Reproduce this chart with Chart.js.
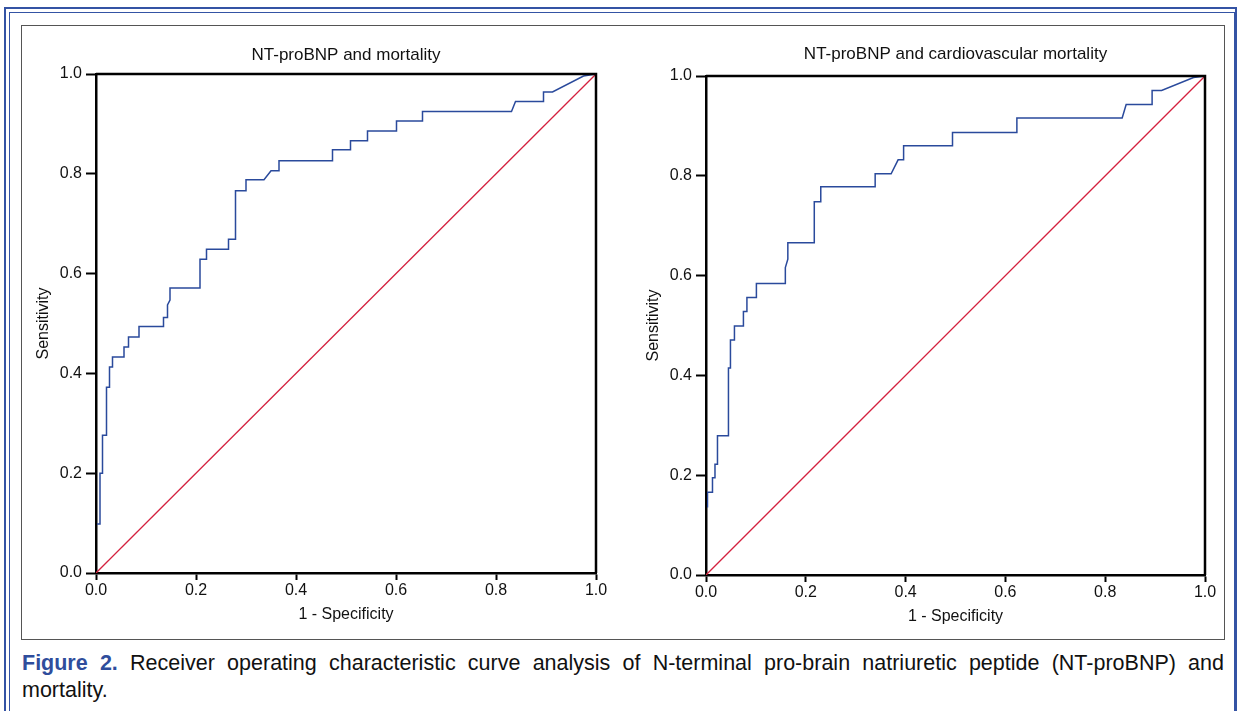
<!DOCTYPE html>
<html><head><meta charset="utf-8">
<script src="https://cdn.jsdelivr.net/npm/chart.js@4"></script>
<style>
html,body{margin:0;padding:0;background:#fff;width:1238px;height:711px;overflow:hidden;font-family:"Liberation Sans",Arial,Helvetica,sans-serif;}
.abs{position:absolute;box-sizing:border-box;}
#outer{left:4px;top:7px;width:1233px;height:720px;border:2px solid #3453a4;border-bottom:none;}
#inner{left:9px;top:12px;width:1226px;height:720px;border:1px solid #3453a4;border-bottom:none;}
#fig{left:21px;top:25px;width:1204px;height:615px;border:1px solid #555;}
#c1wrap{left:22px;top:26px;width:600px;height:600px;}
#c2wrap{left:632px;top:28px;width:600px;height:600px;}
#cap{left:22px;top:650px;width:1202px;font-size:21.5px;line-height:27px;color:#111;}
#cap .l1{text-align:justify;text-align-last:justify;white-space:nowrap;}
#cap b{color:#2f4d9c;}
</style></head>
<body>
<div id="outer" class="abs"></div>
<div id="inner" class="abs"></div>
<div id="fig" class="abs"></div>
<div id="c1wrap" class="abs"><canvas id="c1" width="600" height="600"></canvas></div>
<div id="c2wrap" class="abs"><canvas id="c2" width="600" height="600"></canvas></div>
<div id="cap" class="abs">
<div class="l1"><b>Figure 2.</b> Receiver operating characteristic curve analysis of N-terminal pro-brain natriuretic peptide (NT-proBNP) and</div>
<div>mortality.</div>
</div>
<script>
// ---- Data ----
const axisTicks = [0.0, 0.2, 0.4, 0.6, 0.8, 1.0];
const titles = ["NT-proBNP and mortality", "NT-proBNP and cardiovascular mortality"];
const xTitle = "1 - Specificity";
const yTitle = "Sensitivity";

// Left panel: all-cause mortality ROC
const leftFPR = [0, 0, 0.008, 0.008, 0.013, 0.013, 0.021, 0.021, 0.027, 0.027, 0.033, 0.033, 0.056, 0.056, 0.065, 0.065, 0.086, 0.086, 0.135, 0.135, 0.143, 0.143, 0.148, 0.148, 0.208, 0.208, 0.221, 0.221, 0.265, 0.265, 0.279, 0.279, 0.300, 0.300, 0.336, 0.350, 0.366, 0.366, 0.473, 0.473, 0.509, 0.509, 0.543, 0.543, 0.601, 0.601, 0.653, 0.653, 0.831, 0.839, 0.895, 0.895, 0.913, 0.975, 1.0];
const leftTPR = [0, 0.098, 0.098, 0.200, 0.200, 0.276, 0.276, 0.372, 0.372, 0.413, 0.413, 0.433, 0.433, 0.453, 0.453, 0.473, 0.473, 0.494, 0.494, 0.512, 0.512, 0.537, 0.547, 0.571, 0.571, 0.629, 0.629, 0.649, 0.649, 0.669, 0.669, 0.766, 0.766, 0.788, 0.788, 0.806, 0.806, 0.826, 0.826, 0.848, 0.848, 0.866, 0.866, 0.886, 0.886, 0.906, 0.906, 0.925, 0.925, 0.945, 0.945, 0.964, 0.964, 0.996, 1.0];

// Right panel: cardiovascular mortality ROC
const rightFPR = [0, 0, 0.003, 0.003, 0.013, 0.013, 0.018, 0.018, 0.023, 0.023, 0.045, 0.045, 0.049, 0.049, 0.057, 0.057, 0.075, 0.075, 0.082, 0.082, 0.101, 0.101, 0.159, 0.159, 0.164, 0.164, 0.217, 0.217, 0.230, 0.230, 0.339, 0.339, 0.371, 0.385, 0.396, 0.396, 0.494, 0.494, 0.623, 0.623, 0.834, 0.842, 0.894, 0.894, 0.913, 0.977, 1.0];
const rightTPR = [0, 0.137, 0.137, 0.166, 0.166, 0.195, 0.195, 0.222, 0.222, 0.279, 0.279, 0.415, 0.415, 0.471, 0.471, 0.499, 0.499, 0.528, 0.528, 0.556, 0.556, 0.584, 0.584, 0.616, 0.633, 0.666, 0.666, 0.748, 0.748, 0.778, 0.778, 0.804, 0.804, 0.832, 0.832, 0.860, 0.860, 0.887, 0.887, 0.916, 0.916, 0.943, 0.943, 0.971, 0.971, 0.997, 1.0];

// Reference line
const refX = [0, 1];
const refY = [0, 1];

// ---- Chart construction ----
const FONT = '"Liberation Sans", Arial, Helvetica, sans-serif';
const boxPlugin = {
  id: 'frameBox',
  afterDraw(chart) {
    const a = chart.chartArea, ctx = chart.ctx;
    ctx.save();
    ctx.strokeStyle = '#000';
    ctx.lineWidth = 2.5;
    ctx.beginPath();
    ctx.moveTo(a.left, a.top); ctx.lineTo(a.right, a.top); ctx.lineTo(a.right, a.bottom);
    ctx.stroke();
    ctx.restore();
  }
};

function pts(xs, ys) { return xs.map((x, i) => ({x: x, y: ys[i]})); }

function makeChart(id, title, xs, ys, titlePadTop, titlePadBottom, padRight) {
  const tickOpts = {
    font: {family: FONT, size: 16}, color: '#111',
    callback: (v) => Number(v).toFixed(1)
  };
  return new Chart(document.getElementById(id), {
    type: 'line',
    data: {
      datasets: [
        {data: pts(refX, refY), borderColor: '#d4213f', borderWidth: 1.3, pointRadius: 0, tension: 0, fill: false},
        {data: pts(xs, ys), borderColor: '#2a4a9c', borderWidth: 1.5, pointRadius: 0, tension: 0, fill: false,
         clip: {left: -1, top: 3, right: 3, bottom: 3}}
      ]
    },
    options: {
      responsive: false, animation: false, devicePixelRatio: 1,
      layout: {padding: {left: 0, right: padRight, top: 0, bottom: 0}},
      plugins: {
        legend: {display: false}, tooltip: {enabled: false},
        title: {display: true, text: title, fullSize: false, color: '#111',
                font: {family: FONT, size: 17, weight: 'normal'},
                padding: {top: titlePadTop, bottom: titlePadBottom}}
      },
      scales: {
        x: {
          type: 'linear', min: 0, max: 1, z: 1,
          afterBuildTicks: (s) => { s.ticks = axisTicks.map(v => ({value: v})); },
          afterFit: (s) => { s.height = 53; },
          grid: {drawOnChartArea: false, drawTicks: true, tickLength: 7, tickWidth: 2, tickColor: '#000'},
          border: {display: true, color: '#000', width: 2.5},
          ticks: Object.assign({padding: 1, maxRotation: 0, autoSkip: false}, tickOpts),
          title: {display: true, text: xTitle, color: '#111', font: {family: FONT, size: 16}, padding: {top: 0, bottom: 2}}
        },
        y: {
          type: 'linear', min: 0, max: 1, z: 1,
          afterBuildTicks: (s) => { s.ticks = axisTicks.map(v => ({value: v})); },
          afterFit: (s) => { s.width = 74; },
          grid: {drawOnChartArea: false, drawTicks: true, tickLength: 10, tickWidth: 2, tickColor: '#000'},
          border: {display: true, color: '#000', width: 2.5},
          ticks: Object.assign({padding: 4, autoSkip: false}, tickOpts),
          title: {display: true, text: yTitle, color: '#111', font: {family: FONT, size: 16}, padding: {top: 12, bottom: 0}}
        }
      }
    },
    plugins: [boxPlugin]
  });
}

makeChart('c1', titles[0], leftFPR, leftTPR, 18.8, 8.8, 26);
makeChart('c2', titles[1], rightFPR, rightTPR, 15.8, 11.8, 27);
</script>
</body></html>
